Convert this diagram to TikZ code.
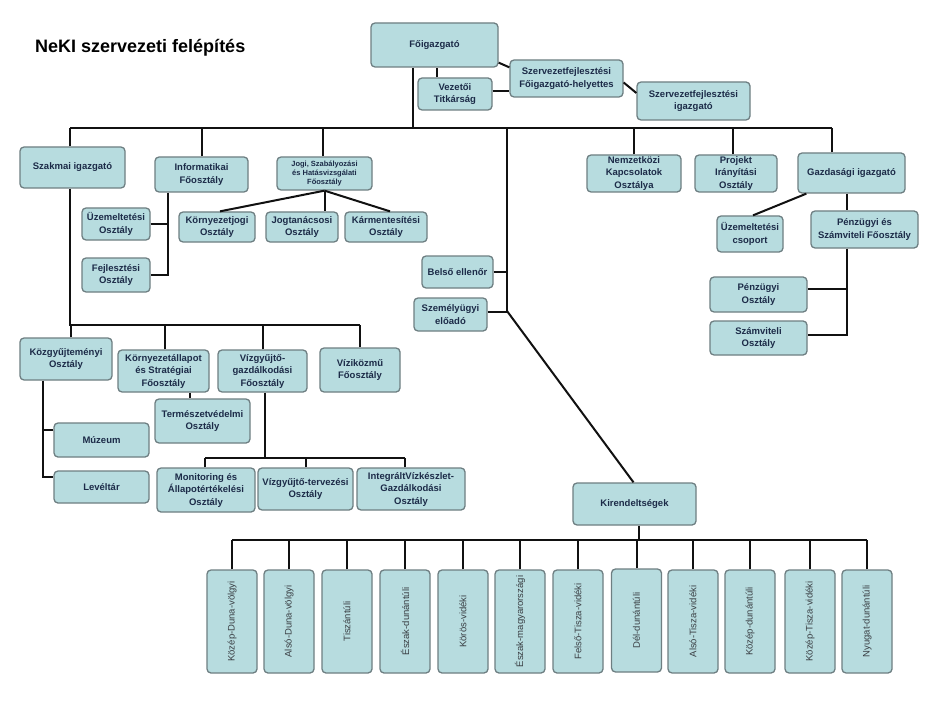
\documentclass[tikz,border=0pt]{standalone}
\usepackage{fontspec}
\usepackage{graphicx}
\setmainfont{Liberation Sans}
\definecolor{boxfill}{HTML}{B7DCDF}
\definecolor{boxline}{HTML}{6E7F82}
\definecolor{boxtext}{HTML}{1C2B48}
\definecolor{vtext}{HTML}{3A3F44}
\definecolor{conn}{HTML}{111111}
\begin{document}
\begin{tikzpicture}[x=1pt,y=-1pt,
  box/.style={draw=boxline, fill=boxfill, rounded corners=4pt, line width=1.3pt,
    text=boxtext, font=\bfseries\fontsize{9.5}{12.5}\selectfont, align=center, inner sep=1pt},
  smallbox/.style={box, font=\bfseries\fontsize{7.5}{9}\selectfont},
  vbox/.style={box, minimum width=50pt, minimum height=103pt, text=vtext,
    font=\fontsize{9.5}{10}\selectfont},
  link/.style={draw=conn, line width=2pt},
  title/.style={font=\bfseries\fontsize{18}{21}\selectfont, text=black, anchor=west, inner sep=0pt}]
\fill[white] (0,0) rectangle (933,711);
\useasboundingbox (0,0) rectangle (933,711);

\node[title] (t) at (35,48) {NeKI szervezeti felépítés};

% top level
\node[box, minimum width=127pt, minimum height=44pt] (fo) at (434.5,45) {Főigazgató};
\node[box, minimum width=74pt, minimum height=32pt] (vt) at (455,94) {Vezetői\\Titkárság};
\node[box, minimum width=113pt, minimum height=37pt] (szfh) at (566.5,78.5) {Szervezetfejlesztési\\Főigazgató-helyettes};
\node[box, minimum width=113pt, minimum height=38pt] (szi) at (693.5,101) {Szervezetfejlesztési\\igazgató};

% second level
\node[box, minimum width=105pt, minimum height=41pt] (szak) at (72.5,167.5) {Szakmai igazgató};
\node[box, minimum width=93pt, minimum height=35pt] (info) at (201.5,174.5) {Informatikai\\Főosztály};
\node[smallbox, minimum width=95pt, minimum height=33pt] (jogi) at (324.5,173.5) {Jogi, Szabályozási\\és Hatásvizsgálati\\Főosztály};
\node[box, minimum width=94pt, minimum height=37pt] (nemz) at (634,173.5) {Nemzetközi\\Kapcsolatok\\Osztálya};
\node[box, minimum width=82pt, minimum height=37pt] (proj) at (736,173.5) {Projekt\\Irányítási\\Osztály};
\node[box, minimum width=107pt, minimum height=40pt] (gazd) at (851.5,173) {Gazdasági igazgató};

% informatika, jogi children
\node[box, minimum width=68pt, minimum height=32pt] (uzem) at (116,224) {Üzemeltetési\\Osztály};
\node[box, minimum width=68pt, minimum height=34pt] (fejl) at (116,275) {Fejlesztési\\Osztály};
\node[box, minimum width=76pt, minimum height=30pt] (kjog) at (217,227) {Környezetjogi\\Osztály};
\node[box, minimum width=72pt, minimum height=30pt] (jtan) at (302,227) {Jogtanácsosi\\Osztály};
\node[box, minimum width=82pt, minimum height=30pt] (karm) at (386,227) {Kármentesítési\\Osztály};

% gazdasagi children
\node[box, minimum width=66pt, minimum height=36pt] (uzcs) at (750,234) {Üzemeltetési\\csoport};
\node[box, minimum width=107pt, minimum height=37pt] (pszf) at (864.5,229.5) {Pénzügyi és\\Számviteli Főosztály};
\node[box, minimum width=97pt, minimum height=35pt] (peno) at (758.5,294.5) {Pénzügyi\\Osztály};
\node[box, minimum width=97pt, minimum height=34pt] (szamo) at (758.5,338) {Számviteli\\Osztály};

% center
\node[box, minimum width=71pt, minimum height=32pt] (bels) at (457.5,272) {Belső ellenőr};
\node[box, minimum width=73pt, minimum height=33pt] (szem) at (450.5,314.5) {Személyügyi\\előadó};

% szakmai children
\node[box, minimum width=92pt, minimum height=42pt] (kozgy) at (66,359) {Közgyűjteményi\\Osztály};
\node[box, minimum width=91pt, minimum height=42pt] (kall) at (163.5,371) {Környezetállapot\\és Stratégiai\\Főosztály};
\node[box, minimum width=89pt, minimum height=42pt] (vgf) at (262.5,371) {Vízgyűjtő-\\gazdálkodási\\Főosztály};
\node[box, minimum width=80pt, minimum height=44pt] (vizk) at (360,370) {Víziközmű\\Főosztály};
\node[box, minimum width=95pt, minimum height=44pt] (term) at (202.5,421) {Természetvédelmi\\Osztály};
\node[box, minimum width=95pt, minimum height=34pt] (muz) at (101.5,440) {Múzeum};
\node[box, minimum width=95pt, minimum height=32pt] (lev) at (101.5,487) {Levéltár};
\node[box, minimum width=98pt, minimum height=44pt] (mon) at (206,490) {Monitoring és\\Állapotértékelési\\Osztály};
\node[box, minimum width=95pt, minimum height=42pt] (vgt) at (305.5,489) {Vízgyűjtő-tervezési\\Osztály};
\node[box, minimum width=108pt, minimum height=42pt] (integ) at (411,489) {IntegráltVízkészlet-\\Gazdálkodási\\Osztály};

% kirendeltsegek
\node[box, minimum width=123pt, minimum height=42pt, font=\bfseries\fontsize{9.5}{11}\selectfont] (kir) at (634.5,504) {Kirendeltségek};
\node[vbox] (k1) at (232,621.5) {\rotatebox{90}{Közép-Duna-völgyi}};
\node[vbox] (k2) at (289,621.5) {\rotatebox{90}{Alsó-Duna-völgyi}};
\node[vbox] (k3) at (347,621.5) {\rotatebox{90}{Tiszántúli}};
\node[vbox] (k4) at (405,621.5) {\rotatebox{90}{Észak-dunántúli}};
\node[vbox] (k5) at (463,621.5) {\rotatebox{90}{Körös-vidéki}};
\node[vbox] (k6) at (520,621.5) {\rotatebox{90}{Észak-magyarországi}};
\node[vbox] (k7) at (578,621.5) {\rotatebox{90}{Felső-Tisza-vidéki}};
\node[vbox] (k8) at (636.5,620.5) {\rotatebox{90}{Dél-dunántúli}};
\node[vbox] (k9) at (693,621.5) {\rotatebox{90}{Alsó-Tisza-vidéki}};
\node[vbox] (k10) at (750,621.5) {\rotatebox{90}{Közép-dunántúli}};
\node[vbox] (k11) at (810,621.5) {\rotatebox{90}{Közép-Tisza-vidéki}};
\node[vbox] (k12) at (867,621.5) {\rotatebox{90}{Nyugat-dunántúli}};

% ---- connectors ----
\coordinate (bus) at (413,128);
\coordinate (cv) at (507,0);
\coordinate (y91) at (0,91);
\path[link] (fo.south -| bus) -- (bus);
\path[link] (70,128) -- (832,128);
\path[link] (szak.north -| 70,0) -- (70,128);
\path[link] (info.north -| 202,0) -- (202,128);
\path[link] (jogi.north -| 323,0) -- (323,128);
\path[link] (nemz.north) -- (nemz.north |- bus);
\path[link] (proj.north -| 733,0) -- (733,128);
\path[link] (gazd.north -| 832,0) -- (832,128);

\path[link] (vt.north -| 437,0) -- (fo.south -| 437,0);
\path[link] (vt.east |- y91) -- (szfh.west |- y91);
\path[link] ([yshift=5pt]fo.south east) -- ([yshift=-8pt]szfh.north west);
\path[link] ([yshift=-4pt]szfh.east) -- ([yshift=8pt]szi.west);

% informatikai
\coordinate (iv) at (168,0);
\path[link] (info.south -| iv) -- (fejl.east -| iv) -- (fejl.east);
\path[link] (uzem.east) -- (uzem.east -| iv);
% jogi
\path[link] (jogi.south) -- ([xshift=3pt]kjog.north);
\path[link] (jogi.south) -- (jtan.north -| jogi.south);
\path[link] (jogi.south) -- ([xshift=4pt]karm.north);

% szakmai
\coordinate (sb) at (70,325);
\path[link] (szak.south -| sb) -- (sb) -- (360,325);
\path[link] (kozgy.north -| 71,0) -- (71,325);
\path[link] (kall.north -| 165,0) -- (165,325);
\path[link] (vgf.north -| 263,0) -- (263,325);
\path[link] (vizk.north) -- (vizk.north |- sb);
\coordinate (kv) at (43,0);
\path[link] (kozgy.south -| kv) -- ([yshift=10pt]lev.west -| kv) -- ([yshift=10pt]lev.west);
\path[link] ([yshift=10pt]muz.west) -- ([yshift=10pt]muz.west -| kv);
\path[link] (kall.south -| 190,0) -- (term.north -| 190,0);
\coordinate (vb) at (265,458);
\path[link] (vgf.south -| vb) -- (vb);
\path[link] (205,458) -- (405,458);
\path[link] (mon.north -| 205,0) -- (205,458);
\path[link] (vgt.north -| 306,0) -- (306,458);
\path[link] (integ.north -| 405,0) -- (405,458);

% gazdasagi
\path[link] ([xshift=9pt]gazd.south west) -- ([xshift=3pt]uzcs.north);
\coordinate (gv) at (847,0);
\path[link] (gazd.south -| gv) -- (pszf.north -| gv);
\path[link] (pszf.south -| gv) -- ([yshift=3pt]szamo.east -| gv) -- ([yshift=3pt]szamo.east);
\path[link] ([yshift=6pt]peno.east) -- ([yshift=6pt]peno.east -| gv);

% center vertical
\coordinate (cj) at (507,311);
\path[link] (cv |- bus) -- (cj);
\path[link] (bels.east) -- (bels.east -| cv);
\path[link] ([yshift=3pt]szem.east) -- ([yshift=3pt]szem.east -| cv);
\path[link] (cj) -- ([xshift=-1pt]kir.north);

% kirendeltsegek bus
\coordinate (kb) at (0,540);
\path[link] (kir.south -| 639,0) -- (639,540);
\path[link] (k1.north |- kb) -- (k12.north |- kb);
\foreach \k in {k1,k2,k3,k4,k5,k6,k7,k8,k9,k10,k11,k12}{
  \path[link] (\k.north) -- (\k.north |- kb);
}
\end{tikzpicture}
\end{document}
